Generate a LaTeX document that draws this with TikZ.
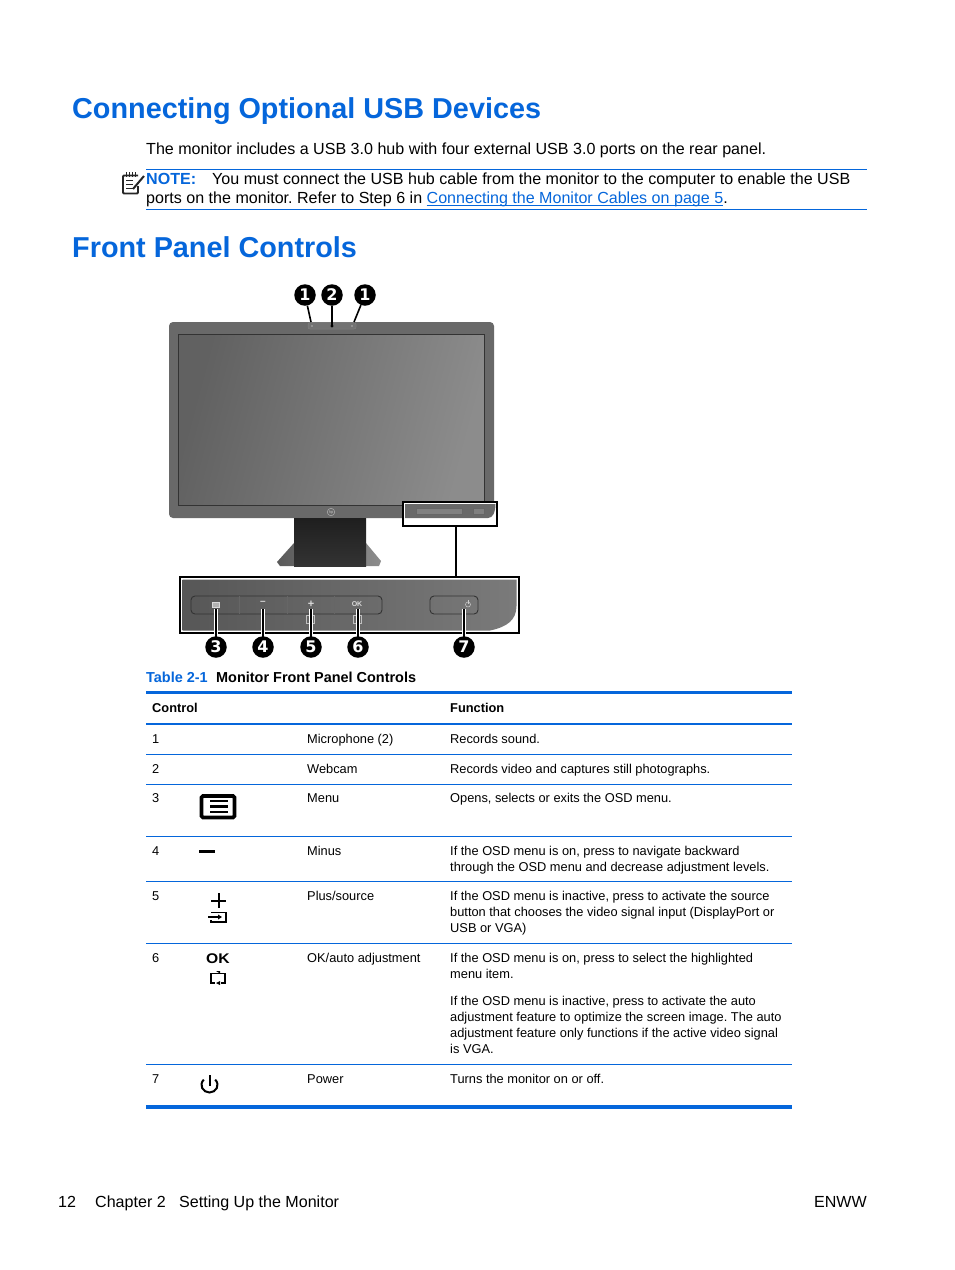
\documentclass[tikz,border=0pt]{standalone}
\usepackage{fontspec}
\setmainfont{Liberation Sans}
\newfontfamily\calloutfamily{DejaVu Sans}
\frenchspacing
\definecolor{hpblue}{HTML}{0566DB}
\definecolor{bezel}{HTML}{696969}
\newcommand{\titlefont}{\fontsize{28.8}{34}\bfseries\selectfont}
\newcommand{\bodyfont}{\fontsize{16.07}{19}\selectfont}
\newcommand{\capfont}{\fontsize{14.45}{18}\bfseries\selectfont}
\newcommand{\tabfont}{\fontsize{12.82}{16}\selectfont}
\newcommand{\linktext}[1]{\textcolor{hpblue}{\underline{\smash{#1}}}}
\tikzset{
pagetitle/.style={anchor=base west,inner sep=0,text=hpblue,font=\titlefont},
bodytext/.style={anchor=base west,inner sep=0,font=\bodyfont},
celltext/.style={anchor=north west,inner sep=0,align=left,font=\tabfont},
headcell/.style={celltext,font=\tabfont\bfseries},
callout/.style={circle,fill=black,inner sep=0,minimum size=21.5pt,text=white,font=\calloutfamily\fontsize{16}{16}\bfseries\selectfont},
leader/.style={line width=1.6pt},
whiteleader/.style={line width=1.7pt,preaction={draw=white,line width=3.6pt}},
panelkey/.style={draw=black!80,line width=.9pt,rounded corners=4pt},
panelsign/.style={inner sep=0,text=white!85!black,font=\fontsize{7}{7}\bfseries\selectfont}
}
\begin{document}
\begin{tikzpicture}[x=1pt,y=-1pt]
\useasboundingbox[fill=white](0,0) rectangle (954,1270);
\node[pagetitle](title1) at (72,118.5){Connecting Optional USB Devices};
\node[bodytext](intro) at (146,154){The monitor includes a USB 3.0 hub with four external USB 3.0 ports on the rear panel.};
\draw[hpblue,line width=.7pt](146,169.5)--(867,169.5);
\draw[hpblue,line width=.7pt](146,209.5)--(867,209.5);
\draw[black!85,line width=1.8pt,rounded corners=1pt](138,175.5)--(123,175.5)--(123,193.5)--(138,193.5)--(138,186);
\foreach \xx in {126,129,132,135}{\draw[black!85,line width=.9pt](\xx,172)--(\xx,177);}
\foreach \yy in {180,184,188}{\draw[black!85,line width=1pt](126,\yy)--(133,\yy);}
\draw[black!85,line width=2pt](144,176)--(133,189);
\node[bodytext,text=hpblue,font=\bodyfont\bfseries](notehead) at (146,184.5){NOTE:};
\node[bodytext](noteone) at (212,184.5){You must connect the USB hub cable from the monitor to the computer to enable the USB};
\node[bodytext](notetwo) at (146,203.5){ports on the monitor. Refer to Step 6 in \linktext{Connecting the Monitor Cables on page 5}.};
\node[pagetitle](title2) at (72,257){Front Panel Controls};
\fill[bezel,rounded corners=4pt](169,322) rectangle (494,518);
\shade[left color=black!62,right color=black!45,shading angle=75,draw=black!80,line width=.8pt](178.5,334) rectangle (484,505.5);
\draw[black!50,fill=black!55,line width=.5pt,rounded corners=2pt](308,322.5) rectangle (356,329);
\fill[black](332,326) circle (1.6);
\fill[black!30](312,326) circle (.8);
\fill[black!30](352,326) circle (.8);
\node[circle,draw=black!30,line width=.5pt,inner sep=.6pt,text=black!25,font=\fontsize{4}{4}\selectfont](hplogo) at (331,512){hp};
\shade[left color=black!65,right color=black!45](280,566)--(277,562)--(294,543)--(366,543)--(381,561)--(379,566)--cycle;
\shade[top color=black!88,bottom color=black!80](294,518) rectangle (366,566);
\node[callout](mic1) at (305,295){1};
\node[callout](cam) at (332,295){2};
\node[callout](mic2) at (365,295){1};
\coordinate(micl) at (311,322);
\coordinate(camdot) at (332,325);
\coordinate(micr) at (354,322);
\draw[leader](mic1)--(micl);
\draw[leader](cam)--(camdot);
\draw[leader](mic2)--(micr);
\node[draw=black,line width=2pt,fill=white,minimum width=94pt,minimum height=24pt,inner sep=0](smallbox) at (450,514){};
\fill[bezel](405,504) -- (495.5,504) .. controls (495.5,512) and (493,518) .. (488,518) -- (405,518)--cycle;
\draw[black!60,line width=.8pt,fill=black!50](416,508) rectangle (462,514);
\draw[black!60,line width=.8pt,fill=black!50](473,508) rectangle (484,514);
\node[draw=black,line width=2.6pt,fill=white,minimum width=339pt,minimum height=56pt,inner sep=0](bigbox) at (349.5,605){};
\shade[left color=black!66,right color=black!52](182.5,579.5) -- (516.5,579.5) -- (516.5,606) .. controls (516.5,620) and (507,627) .. (490,630.5) -- (182.5,630.5) -- cycle;
\coordinate(drop) at (456,526);
\draw[leader](drop)--(drop |- bigbox.north);
\draw[panelkey](191,596) rectangle (382,614);
\draw[panelkey](430,596) rectangle (478,614);
\foreach \xx in {239,287,334}{\draw[black!60,line width=.7pt](\xx,596)--(\xx,614);}
\draw[white!85!black,fill=black!30,line width=.6pt](212,602) rectangle (219,607);
\node[panelsign,font=\fontsize{10}{10}\bfseries\selectfont](minus) at (263,603){--};
\node[panelsign,font=\fontsize{11}{11}\bfseries\selectfont](plus) at (311,604){+};
\node[panelsign](oksign) at (357,604){OK};
\draw[white!75!black,line width=.6pt](306,615) rectangle (314,623);
\draw[white!75!black,line width=.6pt](353,615) rectangle (361,623);
\draw[white!80!black,line width=.5pt](468,604.5) circle (2.5);
\draw[white!80!black,line width=.5pt](468,600)--(468,604);
\foreach \n/\xx in {3/216,4/263,5/311,6/358,7/464}{
\coordinate(key\n) at (\xx,609);
\coordinate(base\n) at (\xx,640);
\draw[whiteleader](key\n)--(base\n);
\node[callout](num\n) at (\xx,647){\n};
}
\node[bodytext,text=hpblue,font=\capfont](tabno) at (146,682){Table 2-1};
\node[bodytext,font=\capfont](tabname) at (216,682){Monitor Front Panel Controls};
\draw[hpblue,line width=3pt](146,692.5)--(792,692.5);
\draw[hpblue,line width=1.8pt](146,724)--(792,724);
\foreach \yy in {754.5,784.5,836.5,881.5,943.5,1064.5}{\draw[hpblue,line width=1pt](146,\yy)--(792,\yy);}
\draw[hpblue,line width=3.6pt](146,1107)--(792,1107);
\node[headcell](headctl) at (152,703){Control};
\node[headcell](headfun) at (450,703){Function};
\node[celltext](noa) at (152,734){1};
\node[celltext](namea) at (307,734){Microphone (2)};
\node[celltext](funa) at (450,734){Records sound.};
\node[celltext](nob) at (152,764){2};
\node[celltext](nameb) at (307,764){Webcam};
\node[celltext](funb) at (450,764){Records video and captures still photographs.};
\node[celltext](noc) at (152,793){3};
\node[celltext](namec) at (307,793){Menu};
\node[celltext](func) at (450,793){Opens, selects or exits the OSD menu.};
\node[celltext](nod) at (152,846){4};
\node[celltext](named) at (307,846){Minus};
\node[celltext](fund) at (450,846){If the OSD menu is on, press to navigate backward\\through the OSD menu and decrease adjustment levels.};
\node[celltext](noe) at (152,891){5};
\node[celltext](namee) at (307,891){Plus/source};
\node[celltext](fune) at (450,891){If the OSD menu is inactive, press to activate the source\\button that chooses the video signal input (DisplayPort or\\USB or VGA)};
\node[celltext](nof) at (152,953){6};
\node[celltext](namef) at (307,953){OK/auto adjustment};
\node[celltext](funf) at (450,953){If the OSD menu is on, press to select the highlighted\\menu item.};
\node[celltext](fung) at (450,996){If the OSD menu is inactive, press to activate the auto\\adjustment feature to optimize the screen image. The auto\\adjustment feature only functions if the active video signal\\is VGA.};
\node[celltext](nog) at (152,1074){7};
\node[celltext](nameg) at (307,1074){Power};
\node[celltext](funh) at (450,1074){Turns the monitor on or off.};
\draw[line width=3.6pt,rounded corners=1.5pt](201.5,796) rectangle (234.5,817.5);
\foreach \yy in {801,806.5,812}{\draw[line width=2.4pt](210,\yy)--(228,\yy);}
\draw[line width=3.6pt](199,851.5)--(215,851.5);
\draw[line width=2pt](211,900.5)--(226,900.5);
\draw[line width=2pt](218.5,893)--(218.5,908);
\draw[line width=1.4pt](211,912.5)--(226,912.5)--(226,922)--(211,922)--(211,919.5);
\draw[line width=1.4pt](208,917)--(219,917);
\fill(222,917)--(218,914.5)--(218,919.5)--cycle;
\node[inner sep=0,font=\fontsize{14}{14}\bfseries\selectfont,xscale=1.12](okicon) at (218,959){OK};
\draw[line width=1.2pt](216,973.5)--(211,973.5)--(211,983)--(215,983);
\draw[line width=1.2pt](220,973.5)--(225,973.5)--(225,983)--(221,983);
\fill(216,971)--(220,973.5)--(220,971)--cycle;
\fill(220,985)--(216,983)--(220,981)--cycle;
\draw[line width=1.2pt](220,973.5)--(216,973.5);
\draw[line width=2pt](203.8,1079.6) .. controls (198.5,1085) and (203,1092.5) .. (209.5,1092.5) .. controls (216,1092.5) and (220.5,1085) .. (215.2,1079.6);
\draw[line width=2pt](209.5,1075)--(209.5,1086);
\node[bodytext](pageno) at (58,1207){12};
\node[bodytext](chapno) at (95,1207){Chapter 2};
\node[bodytext](chapname) at (179,1207){Setting Up the Monitor};
\node[bodytext,anchor=base east](doccode) at (867,1207){ENWW};
\end{tikzpicture}
\end{document}
